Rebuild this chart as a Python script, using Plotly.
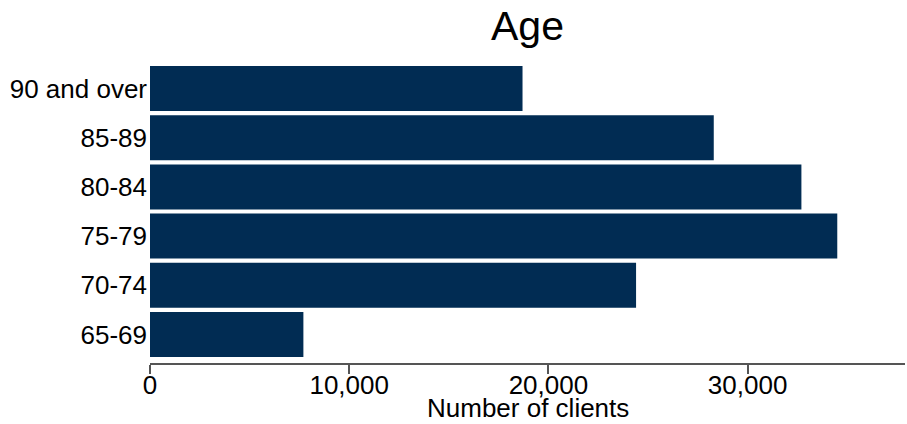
import plotly.graph_objects as go

categories = ["65-69", "70-74", "75-79", "80-84", "85-89", "90 and over"]
clients = [7700, 24400, 34500, 32700, 28300, 18700]
x_ticks = [0, 10000, 20000, 30000]
x_tick_labels = ["0", "10,000", "20,000", "30,000"]

FONT = "Liberation Sans, Arial, sans-serif"

fig = go.Figure(go.Bar(
    y=categories,
    x=clients,
    orientation="h",
    marker=dict(color="#012C53", line=dict(width=0)),
))

fig.update_layout(
    width=907, height=424,
    margin=dict(l=150, r=2, t=64, b=61, autoexpand=False),
    paper_bgcolor="white", plot_bgcolor="white",
    bargap=0.085,
    showlegend=False,
    font=dict(family=FONT, color="black"),
    title=dict(text="Age", font=dict(size=41, family=FONT, color="black"),
               x=0.5, xref="paper", xanchor="center",
               y=1 - 26 / 424, yref="container", yanchor="middle"),
    annotations=[dict(
        text="Number of clients", xref="paper", yref="paper",
        x=0.5, y=0, xanchor="center", yanchor="middle", yshift=-45,
        showarrow=False, font=dict(size=26, family=FONT, color="black"),
    )],
)

fig.update_xaxes(
    range=[0, 37900],
    tickvals=x_ticks, ticktext=x_tick_labels,
    showgrid=False, zeroline=False, automargin=False,
    showline=True, linecolor="#555555", linewidth=1.5,
    ticks="outside", ticklen=9, tickwidth=1.5, tickcolor="#555555",
    ticklabelstandoff=-11,
    tickfont=dict(size=26, family=FONT, color="black"),
)

fig.update_yaxes(
    type="category",
    range=[-0.58, 5.5],
    showgrid=False, zeroline=False, showline=False, automargin=False,
    ticks="", ticklabelstandoff=2,
    tickfont=dict(size=26, family=FONT, color="black"),
)

fig.write_html(
    "out.html",
    config={"displayModeBar": False},
    post_script="document.body.style.margin='0';document.body.style.overflow='hidden';",
)
